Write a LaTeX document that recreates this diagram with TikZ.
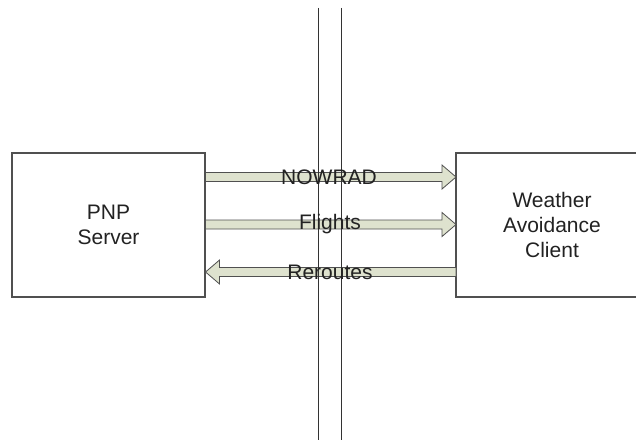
\documentclass[tikz,border=0pt]{standalone}
\usepackage{fontspec}
\setmainfont{Liberation Sans}
\usetikzlibrary{calc}
\definecolor{linegray}{HTML}{505050}
\definecolor{txtgray}{HTML}{222222}
\definecolor{arrowfill}{HTML}{DEE2CE}
\tikzset{
  sysbox/.style={draw=linegray, line width=1.1pt, fill=white, minimum width=193pt, minimum height=144pt, inner sep=0pt},
  boxtext/.style={align=center, text=txtgray, inner sep=0pt, font=\fontsize{21}{25}\selectfont},
  fatarrow/.style={draw=linegray, line width=0.8pt, fill=arrowfill},
  flowlabel/.style={text=txtgray, font=\fontsize{21}{25}\selectfont, inner sep=0pt},
  wall/.style={draw=black!80, line width=1.1pt}
}
\begin{document}
\begin{tikzpicture}[x=1pt,y=1pt]
\fill[white] (0,0) rectangle (636,440);
\useasboundingbox (0,0) rectangle (636,440);
\node[sysbox] (pnp) at (108.5,215) {};
\node[boxtext] (pnptext) at (pnp.center) {PNP\\Server};
\coordinate (wac) at (456,215);
\coordinate (wacne) at (636,287);
\coordinate (wacse) at (636,143);
\draw[linegray, line width=1.1pt] (wacne) -- (456,287) -- (456,143) -- (wacse);
\node[boxtext] (wactext) at (552,215) {Weather\\Avoidance\\Client};
% arrows
\foreach \dy in {48, 0.5}{
  \draw[fatarrow] ($(pnp.east)+(0,\dy+4.5)$) -- ($(wac)+(-14,\dy+4.5)$) -- ($(wac)+(-14,\dy+12)$) -- ($(wac)+(0,\dy)$) -- ($(wac)+(-14,\dy-12)$) -- ($(wac)+(-14,\dy-4.5)$) -- ($(pnp.east)+(0,\dy-4.5)$) -- cycle;
}
\draw[fatarrow] ($(wac)+(0,-47+4.5)$) -- ($(pnp.east)+(14,-47+4.5)$) -- ($(pnp.east)+(14,-47+12)$) -- ($(pnp.east)+(0,-47)$) -- ($(pnp.east)+(14,-47-12)$) -- ($(pnp.east)+(14,-47-4.5)$) -- ($(wac)+(0,-47-4.5)$) -- cycle;
% walls
\coordinate (w1t) at (318.3,432);
\coordinate (w1b) at (318.3,0);
\coordinate (w2t) at (341.7,432);
\coordinate (w2b) at (341.7,0);
\draw[wall] (w1t) -- (w1b);
\draw[wall] (w2t) -- (w2b);
% labels
\node[flowlabel] (lnow) at (329,263) {NOWRAD};
\node[flowlabel] (lfli) at (330,215.5) {Flights};
\node[flowlabel] (lrer) at (330,168) {Reroutes};
\end{tikzpicture}
\end{document}
